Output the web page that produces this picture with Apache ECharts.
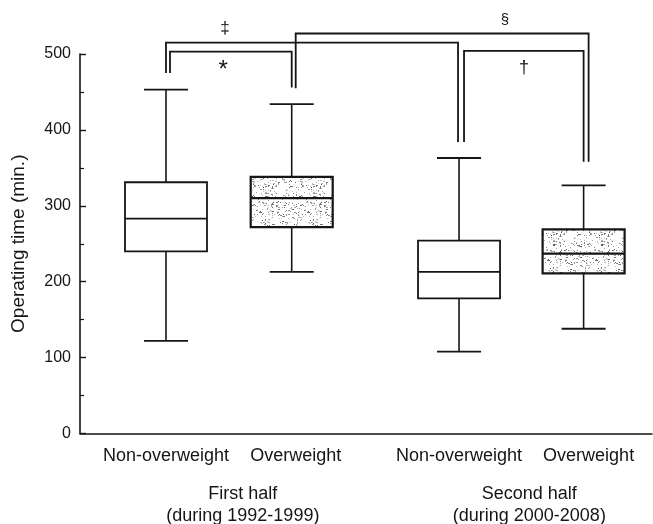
<!DOCTYPE html>
<html>
<head>
<meta charset="utf-8">
<script src="https://cdn.jsdelivr.net/npm/echarts@6/dist/echarts.min.js"></script>
<style>
  html, body { margin: 0; padding: 0; background: #ffffff; }
  #chart { width: 653px; height: 524px; }
</style>
</head>
<body>
<div id="chart"></div>
<script>
// Operating time (minutes) by weight group in two study periods
const groupNames  = ['Non-overweight', 'Overweight', 'Non-overweight', 'Overweight'];
const periodNames = ['First half', 'Second half'];
const periodYears = ['(during 1992-1999)', '(during 2000-2008)'];
const whiskerLow  = [122, 213, 108, 138];
const quartile1   = [240, 272, 178, 211];
const medians     = [283, 310, 213, 237];
const quartile3   = [331, 338, 254, 269];
const whiskerHigh = [453, 434, 363, 327];
const stippled    = [0, 1, 0, 1];
const yTickStep   = 100;
const yMax        = 500;

// Significance brackets: which boxes they join, heights in minutes, and the mark
const bracketFrom  = [0, 0, 1, 2];
const bracketTo    = [1, 2, 3, 3];
const bracketTop   = [503, 515, 527, 504];
const bracketFootL = [475, 475, 455, 384];
const bracketFootR = [456, 384, 358, 358];
const bracketMarks = ['*', '\u2021', '\u00a7', '\u2020'];
const markHeights  = [478, 534, 545, 481];

// ---- layout (horizontal slots on the x scale, pixel nudges, type sizes) ----
const slotX       = [0.684, 1.684, 3.015, 4.006];
const xMax        = 4.55;
const markSlotX   = [1.138, 1.154, 3.381, 3.532];
const legShiftL   = [4, 0, 4, 5];
const legShiftR   = [0, -1, 5, 0];
const markSize    = [24, 17, 15, 18];
const labelShift  = [0, 4, 0, 5];
const periodShift = [14, 8];
const BOX_HALF    = 41;
const CAP_HALF    = 22;
const INK         = '#151515';
const FONT        = '"Liberation Sans", Arial, sans-serif';

// Stippled texture for the overweight boxes (deterministic speckle)
function makeStipple() {
  const c = document.createElement('canvas');
  c.width = 48; c.height = 48;
  const g = c.getContext('2d');
  g.fillStyle = '#ffffff';
  g.fillRect(0, 0, 48, 48);
  let s = 12345;
  const next = () => { s = (s * 1103515245 + 12345) & 0x7fffffff; return s / 0x7fffffff; };
  for (let k = 0; k < 300; k++) {
    const x = Math.floor(next() * 48), y = Math.floor(next() * 48);
    const shade = Math.floor(90 + next() * 120);
    g.fillStyle = 'rgb(' + shade + ',' + shade + ',' + shade + ')';
    g.fillRect(x, y, next() < 0.2 ? 2 : 1, 1);
  }
  return c;
}
const stippleTile = makeStipple();

const boxData = groupNames.map((_, i) => [
  slotX[i], whiskerLow[i], quartile1[i], medians[i], quartile3[i], whiskerHigh[i], stippled[i]
]);
const bracketData = bracketFrom.map((_, i) => [
  slotX[bracketFrom[i]], slotX[bracketTo[i]], bracketTop[i], bracketFootL[i], bracketFootR[i], markSlotX[i], markHeights[i], i
]);
const labelData = groupNames.map((n, i) => [slotX[i], 0, i]);
const periodData = periodNames.map((n, i) => [(slotX[2 * i] + slotX[2 * i + 1]) / 2, 0, i]);

function renderBox(params, api) {
  const x = api.value(0);
  const p = v => api.coord([x, v]);
  const lo = p(api.value(1)), q1 = p(api.value(2)), md = p(api.value(3));
  const q3 = p(api.value(4)), hi = p(api.value(5));
  const cx = lo[0];
  const filled = api.value(6) === 1;
  const line = (x1, y1, x2, y2, w) => ({
    type: 'line', shape: { x1, y1, x2, y2 },
    style: { stroke: INK, lineWidth: w }
  });
  return {
    type: 'group',
    children: [
      line(cx, hi[1], cx, q3[1], 1.6),
      line(cx, q1[1], cx, lo[1], 1.6),
      line(cx - CAP_HALF, hi[1], cx + CAP_HALF, hi[1], 1.8),
      line(cx - CAP_HALF, lo[1], cx + CAP_HALF, lo[1], 1.8),
      {
        type: 'rect',
        shape: { x: cx - BOX_HALF, y: q3[1], width: BOX_HALF * 2, height: q1[1] - q3[1] },
        style: {
          fill: filled ? { image: stippleTile, repeat: 'repeat' } : '#ffffff',
          stroke: INK, lineWidth: filled ? 2.2 : 1.8
        }
      },
      line(cx - BOX_HALF, md[1], cx + BOX_HALF, md[1], filled ? 2.2 : 1.8)
    ]
  };
}

function renderBracket(params, api) {
  const i = api.value(7);
  const a = api.coord([api.value(0), api.value(2)]);
  const b = api.coord([api.value(1), api.value(2)]);
  const fl = api.coord([api.value(0), api.value(3)]);
  const fr = api.coord([api.value(1), api.value(4)]);
  const m = api.coord([api.value(5), api.value(6)]);
  const xl = a[0] + legShiftL[i], xr = b[0] + legShiftR[i];
  return {
    type: 'group',
    children: [
      {
        type: 'polyline',
        shape: { points: [[xl, fl[1]], [xl, a[1]], [xr, b[1]], [xr, fr[1]]] },
        style: { stroke: INK, lineWidth: 1.8, fill: null }
      },
      {
        type: 'text',
        style: {
          x: m[0], y: m[1], text: bracketMarks[i],
          fill: INK, font: markSize[i] + 'px ' + FONT,
          align: 'center', verticalAlign: 'middle'
        }
      }
    ]
  };
}

function renderGroupLabel(params, api) {
  const i = api.value(2);
  const pt = api.coord([api.value(0), api.value(1)]);
  return {
    type: 'text',
    style: {
      x: pt[0] + labelShift[i], y: pt[1] + 23, text: groupNames[i],
      fill: INK, font: '18px ' + FONT, align: 'center', verticalAlign: 'middle'
    }
  };
}

function renderPeriodLabel(params, api) {
  const i = api.value(2);
  const pt = api.coord([api.value(0), api.value(1)]);
  const x = pt[0] + periodShift[i];
  return {
    type: 'group',
    children: [
      { type: 'text', style: { x, y: pt[1] + 61, text: periodNames[i], fill: INK,
        font: '18px ' + FONT, align: 'center', verticalAlign: 'middle' } },
      { type: 'text', style: { x, y: pt[1] + 83, text: periodYears[i], fill: INK,
        font: '18px ' + FONT, align: 'center', verticalAlign: 'middle' } }
    ]
  };
}

const chart = echarts.init(document.getElementById('chart'), null, { renderer: 'canvas' });
chart.setOption({
  animation: false,
  backgroundColor: '#ffffff',
  grid: { left: 80, right: 1, top: 54, bottom: 90.5, containLabel: false },
  xAxis: {
    type: 'value', min: 0, max: xMax,
    axisLine: { show: true, onZero: false, lineStyle: { color: INK, width: 1.6 } },
    axisTick: { show: false }, axisLabel: { show: false }, splitLine: { show: false }
  },
  yAxis: {
    type: 'value', min: 0, max: yMax, interval: yTickStep,
    name: 'Operating time (min.)', nameLocation: 'middle', nameGap: 52, nameRotate: 90,
    nameTextStyle: { fontFamily: FONT, fontSize: 19, color: INK },
    axisLine: { show: true, lineStyle: { color: INK, width: 1.6 } },
    axisTick: { show: true, inside: true, length: 6, lineStyle: { color: INK, width: 1.4 } },
    minorTick: { show: true, splitNumber: 2, length: 4, lineStyle: { color: INK, width: 1.2 } },
    axisLabel: { fontFamily: FONT, fontSize: 16, color: INK, margin: 9 },
    splitLine: { show: false }, minorSplitLine: { show: false }
  },
  series: [
    { type: 'custom', name: 'boxes', clip: false, data: boxData, renderItem: renderBox },
    { type: 'custom', name: 'brackets', clip: false, data: bracketData, renderItem: renderBracket },
    { type: 'custom', name: 'groups', clip: false, data: labelData, renderItem: renderGroupLabel },
    { type: 'custom', name: 'periods', clip: false, data: periodData, renderItem: renderPeriodLabel }
  ]
});
</script>
</body>
</html>
